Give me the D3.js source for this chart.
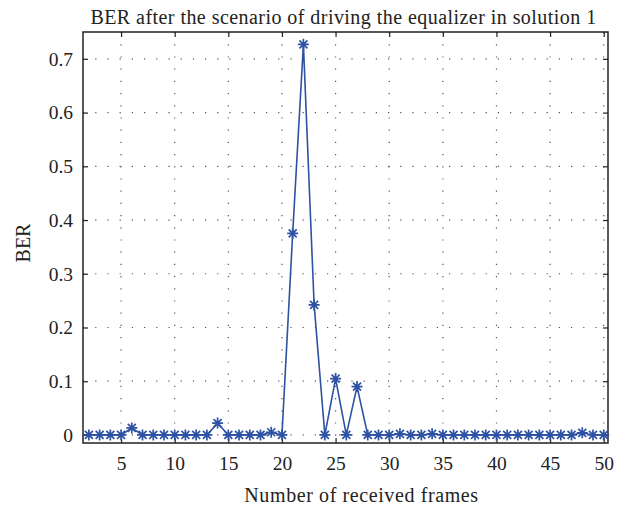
<!DOCTYPE html>
<html>
<head>
<meta charset="utf-8">
<script src="https://cdn.jsdelivr.net/npm/d3@7"></script>
<style>
  body { margin: 0; background: #fff; }
  text { font-family: "Liberation Serif", "DejaVu Serif", serif; fill: #222; }
</style>
</head>
<body>
<div id="chart"></div>
<script>
// frames 2..50 and their BER
var frames = d3.range(2, 51);
var ber = [0, 0, 0, 0, 0.013, 0, 0, 0, 0, 0, 0, 0, 0.022, 0, 0, 0, 0, 0.005, 0,
           0.375, 0.727, 0.242, 0, 0.105, 0, 0.09, 0, 0, 0, 0.002, 0, 0, 0.002,
           0, 0, 0, 0, 0, 0, 0, 0, 0, 0, 0, 0, 0, 0.004, 0, 0];
var xTicks = [5, 10, 15, 20, 25, 30, 35, 40, 45, 50];
var yTicks = [0, 0.1, 0.2, 0.3, 0.4, 0.5, 0.6, 0.7];

var W = 622, H = 510,
    margin = {top: 32, right: 14, bottom: 67, left: 83},
    width = W - margin.left - margin.right,
    height = H - margin.top - margin.bottom;

var svg = d3.select("#chart").append("svg").attr("width", W).attr("height", H),
    g = svg.append("g").attr("transform", "translate(" + margin.left + "," + margin.top + ")");

var x = d3.scaleLinear().domain([1.45, 50.4]).range([0, width]);
var y = d3.scaleLinear().domain([-0.015, 0.75]).range([height, 0]);

// dotted grid
g.append("g").selectAll("line").data(xTicks).enter().append("line")
    .attr("x1", function(d) { return x(d); }).attr("x2", function(d) { return x(d); })
    .attr("y1", 0).attr("y2", height)
    .attr("stroke", "#555").attr("stroke-width", 1.2).attr("stroke-dasharray", "1.2,11");
g.append("g").selectAll("line").data(yTicks).enter().append("line")
    .attr("x1", 0).attr("x2", width)
    .attr("y1", function(d) { return y(d); }).attr("y2", function(d) { return y(d); })
    .attr("stroke", "#555").attr("stroke-width", 1.2).attr("stroke-dasharray", "1.2,11");

// axes (ticks point inward, MATLAB style)
var xb = g.append("g").attr("transform", "translate(0," + height + ")")
    .call(d3.axisBottom(x).tickValues(xTicks).tickSizeInner(-5).tickSizeOuter(0).tickPadding(13));
var xt = g.append("g").call(d3.axisTop(x).tickValues(xTicks).tickSizeInner(-5).tickSizeOuter(0).tickFormat(""));
var yl = g.append("g").call(d3.axisLeft(y).tickValues(yTicks).tickSizeInner(-5).tickSizeOuter(0)
    .tickPadding(10).tickFormat(function(d) { return d === 0 ? "0" : d3.format(".1f")(d); }));
var yr = g.append("g").attr("transform", "translate(" + width + ",0)")
    .call(d3.axisRight(y).tickValues(yTicks).tickSizeInner(-5).tickSizeOuter(0).tickFormat(""));
[xb, xt, yl, yr].forEach(function(a) {
  a.attr("font-family", null);
  a.select(".domain").remove();
  a.selectAll("line").attr("stroke", "#222").attr("stroke-width", 1.2);
  a.selectAll("text").attr("font-size", 19.5).attr("fill", "#222");
});

g.append("rect").attr("width", width).attr("height", height)
    .attr("fill", "none").attr("stroke", "#222").attr("stroke-width", 1.5);

// series
var pts = frames.map(function(f, i) { return {f: f, v: ber[i]}; });
var color = "#2d52a3";
g.append("path").datum(pts)
    .attr("fill", "none").attr("stroke", color).attr("stroke-width", 1.6)
    .attr("d", d3.line().x(function(d) { return x(d.f); }).y(function(d) { return y(d.v); }));

var s = 5.5, s2 = 4;
var star = "M" + (-s) + ",0L" + s + ",0M0," + (-s) + "L0," + s +
           "M" + (-s2) + "," + (-s2) + "L" + s2 + "," + s2 +
           "M" + (-s2) + "," + s2 + "L" + s2 + "," + (-s2);
g.append("g").selectAll("path").data(pts).enter().append("path")
    .attr("transform", function(d) { return "translate(" + x(d.f) + "," + y(d.v) + ")"; })
    .attr("d", star).attr("stroke", color).attr("stroke-width", 1.7).attr("fill", "none");

// labels
svg.append("text").attr("x", margin.left + width / 2 - 2).attr("y", 24)
    .attr("text-anchor", "middle").attr("font-size", 20).attr("letter-spacing", 0.45)
    .text("BER after the scenario of driving the equalizer in solution 1");
svg.append("text").attr("x", margin.left + width / 2 + 16).attr("y", 502)
    .attr("text-anchor", "middle").attr("font-size", 20).attr("letter-spacing", 0.6)
    .text("Number of received frames");
svg.append("text").attr("transform", "translate(30,243) rotate(-90)")
    .attr("text-anchor", "middle").attr("font-size", 20)
    .text("BER");
</script>
</body>
</html>
